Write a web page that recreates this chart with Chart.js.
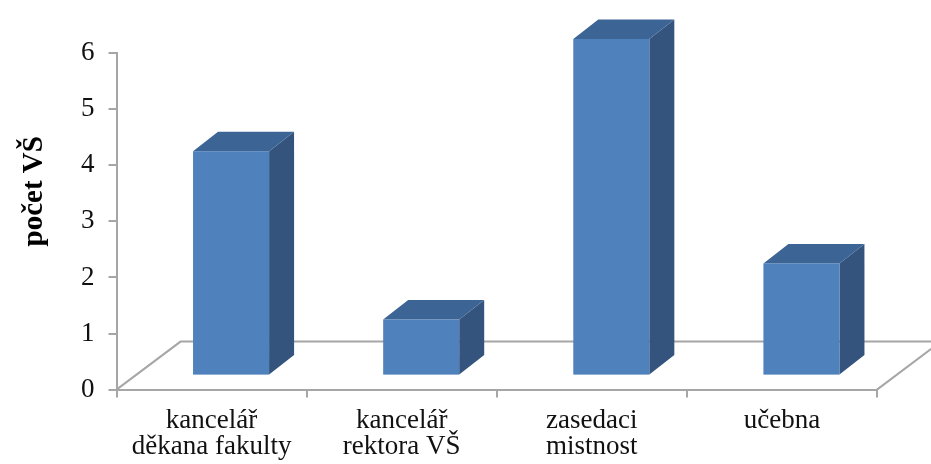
<!DOCTYPE html>
<html>
<head>
<meta charset="utf-8">
<script src="https://cdn.jsdelivr.net/npm/chart.js@4"></script>
<style>
  html, body { margin: 0; padding: 0; background: #fff; }
  #wrap { width: 931px; height: 464px; }
</style>
</head>
<body>
<div id="wrap"><canvas id="c" width="931" height="464"></canvas></div>
<script>
// categories and values
var categories = [
    ['kancelář', 'děkana fakulty'],
    ['kancelář', 'rektora VŠ'],
    ['zasedaci', 'mistnost'],
    ['učebna']
];
var counts = [4, 1, 6, 2];
var yTicks = [0, 1, 2, 3, 4, 5, 6];
var yTitle = 'počet VŠ';

var FRONT = '#4F81BD';
var TOP = '#3C6596';
var SIDE = '#34547E';
var LINE = '#A6A6A6';

// 3D look: bars sit inside the floor, their back faces shifted up-right
var DEPTH_X = 25, DEPTH_Y = 19.5;
var BAR_SHIFT_X = 19.5, BAR_SHIFT_Y = 14;
var FLOOR_X = 64, FLOOR_Y = 48;

var floor3d = {
    id: 'floor3d',
    beforeDatasetsDraw: function (chart) {
        var ctx = chart.ctx;
        var xs = chart.scales.x, ys = chart.scales.y;
        var y0 = ys.getPixelForValue(0);
        ctx.save();
        ctx.strokeStyle = LINE;
        ctx.lineWidth = 2;
        ctx.beginPath();
        ctx.moveTo(xs.left, y0);
        ctx.lineTo(xs.left + FLOOR_X, y0 - FLOOR_Y);
        ctx.lineTo(xs.right + FLOOR_X, y0 - FLOOR_Y);
        ctx.lineTo(xs.right, y0);
        ctx.stroke();
        ctx.restore();
    },
    afterDatasetsDraw: function (chart) {
        var ctx = chart.ctx;
        var meta = chart.getDatasetMeta(0);
        ctx.save();
        meta.data.forEach(function (bar) {
            var p = bar.getProps(['x', 'y', 'base', 'width'], true);
            var l = p.x - p.width / 2 + BAR_SHIFT_X;
            var r = p.x + p.width / 2 + BAR_SHIFT_X;
            var t = p.y - BAR_SHIFT_Y;
            var b = p.base - BAR_SHIFT_Y;
            ctx.fillStyle = SIDE;
            ctx.beginPath();
            ctx.moveTo(r, t);
            ctx.lineTo(r + DEPTH_X, t - DEPTH_Y);
            ctx.lineTo(r + DEPTH_X, b - DEPTH_Y);
            ctx.lineTo(r, b);
            ctx.closePath();
            ctx.fill();
            ctx.fillStyle = TOP;
            ctx.beginPath();
            ctx.moveTo(l, t);
            ctx.lineTo(l + DEPTH_X, t - DEPTH_Y);
            ctx.lineTo(r + DEPTH_X, t - DEPTH_Y);
            ctx.lineTo(r, t);
            ctx.closePath();
            ctx.fill();
            ctx.fillStyle = FRONT;
            ctx.fillRect(l, t, r - l, b - t);
        });
        ctx.restore();
    }
};

// axis title sits a bit above the middle of the axis, as in the source
var yTitlePlugin = {
    id: 'yTitle',
    afterDraw: function (chart) {
        var ctx = chart.ctx;
        var area = chart.chartArea;
        ctx.save();
        ctx.translate(35, (area.top + area.bottom) / 2 - 30);
        ctx.rotate(-Math.PI / 2);
        ctx.font = 'bold 29px "Liberation Serif"';
        ctx.fillStyle = '#000';
        ctx.textAlign = 'center';
        ctx.textBaseline = 'middle';
        ctx.fillText(yTitle, 0, 0);
        ctx.restore();
    }
};

new Chart(document.getElementById('c'), {
    type: 'bar',
    data: {
        labels: categories,
        datasets: [{
            label: yTitle,
            data: counts,
            backgroundColor: 'rgba(0,0,0,0)',
            borderWidth: 0,
            categoryPercentage: 1,
            barPercentage: 0.4
        }]
    },
    options: {
        responsive: false,
        animation: false,
        events: [],
        layout: { padding: { left: 67, right: 54, top: 53, bottom: -6 } },
        plugins: {
            legend: { display: false },
            tooltip: { enabled: false }
        },
        scales: {
            x: {
                grid: {
                    offset: true,
                    drawOnChartArea: false,
                    tickLength: 8,
                    color: LINE,
                    lineWidth: 2
                },
                border: { color: LINE, width: 2 },
                ticks: {
                    color: '#111',
                    padding: 10,
                    maxRotation: 0,
                    autoSkip: false,
                    font: { family: 'Liberation Serif', size: 27, lineHeight: 0.97 }
                }
            },
            y: {
                min: 0,
                max: 6,
                afterBuildTicks: function (axis) {
                    axis.ticks = yTicks.map(function (v) { return { value: v }; });
                },
                grid: {
                    drawOnChartArea: false,
                    tickLength: 8,
                    color: LINE,
                    lineWidth: 2
                },
                border: { color: LINE, width: 2 },
                ticks: {
                    color: '#111',
                    padding: 14,
                    font: { family: 'Liberation Serif', size: 27 }
                }
            }
        }
    },
    plugins: [floor3d, yTitlePlugin]
});
</script>
</body>
</html>
